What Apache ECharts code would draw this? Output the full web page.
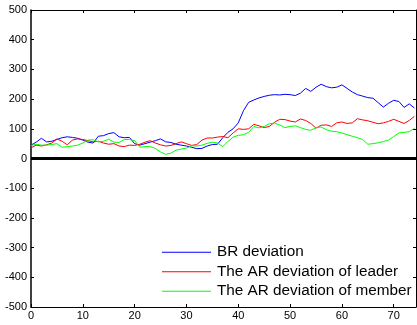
<!DOCTYPE html>
<html><head><meta charset="utf-8">
<script src="https://cdn.jsdelivr.net/npm/echarts@6/dist/echarts.min.js"></script>
<style>html,body{margin:0;padding:0;background:#fff}#c{width:417px;height:325px}</style>
</head><body><div id="c"></div>
<script>
const xTicks = [0,10,20,30,40,50,60,70];
const yTicks = [-500,-400,-300,-200,-100,0,100,200,300,400,500];
const seriesNames = ["BR deviation","The AR deviation of leader","The AR deviation of member"];
const brDeviation = [45,55,68,56,58,64,70,73,71,68,62,55,52,75,77,84,87,73,70,71,50,45,50,55,60,66,56,54,48,45,42,38,33,34,42,47,48,70,88,100,120,161,189,197,204,209,213,215,214,216,215,212,220,236,226,240,250,242,238,240,248,236,224,215,210,205,203,188,173,186,196,192,172,184,170];
const leaderDeviation = [36,45,42,46,52,66,58,46,62,66,64,60,56,58,52,48,50,42,40,45,44,48,55,60,52,46,42,44,50,56,50,44,47,62,69,69,72,74,70,86,100,98,100,115,110,104,108,122,132,131,126,123,133,128,118,102,112,113,108,120,123,118,120,134,130,127,122,117,120,125,132,125,118,128,142];
const memberDeviation = [44,48,45,45,47,50,38,40,42,45,52,62,63,56,58,65,55,54,64,64,60,38,40,40,34,22,14,18,28,32,35,43,42,45,51,55,52,40,57,72,78,80,88,108,103,108,117,119,113,104,108,110,104,98,95,104,106,97,92,90,86,80,75,70,64,48,50,53,57,62,74,86,88,90,102];
const colors = ["#0000ff","#ff0000","#00ff00"];
const chart = echarts.init(document.getElementById('c'), null, {renderer:'canvas'});
const tf = {fontFamily:'Liberation Sans, Arial, sans-serif', fontSize:11, color:'#000'};
const mk = (arr)=>arr.map((v,i)=>[i,v]);
const datasets=[brDeviation,leaderDeviation,memberDeviation];
const lineIcon = 'path://M0,0 L100,0 L100,2 L0,2 Z';
chart.setOption({
  animation:false,
  backgroundColor:'#fff',
  grid:{left:31,top:10,width:385,bottom:18,containLabel:false},
  legend:{orient:'vertical',left:157,top:238,itemWidth:49,itemHeight:1,itemGap:1,itemGap:1,
    textStyle:{fontFamily:'Liberation Sans, Arial, sans-serif',fontSize:15.3,color:'#000',lineHeight:18.5,padding:[0,0,0,1]},
    data:seriesNames.map((n,k)=>({name:n,icon:lineIcon,itemStyle:{color:colors[k]}}))},
  xAxis:[
    {type:'value',min:0,max:74.3,interval:10,position:'bottom',
     axisLine:{onZero:false,lineStyle:{color:'#000',width:1}},axisTick:{inside:true,length:3,lineStyle:{color:'#000'}},
     axisLabel:Object.assign({margin:3,showMaxLabel:false,formatter:v=>xTicks.includes(v)?String(v):''},tf),splitLine:{show:false}},
    {type:'value',min:0,max:74.3,interval:10,position:'top',
     axisLine:{onZero:false,lineStyle:{color:'#000',width:1}},axisTick:{inside:true,length:3,lineStyle:{color:'#000'}},
     axisLabel:{show:false},splitLine:{show:false}}
  ],
  yAxis:[
    {type:'value',min:-500,max:500,interval:100,position:'left',
     axisLine:{show:true,onZero:false,lineStyle:{color:'#000',width:1.5}},axisTick:{show:true,inside:true,length:3,lineStyle:{color:'#000'}},
     axisLabel:Object.assign({margin:4,formatter:v=>yTicks.includes(v)?String(v):''},tf),splitLine:{show:false}},
    {type:'value',min:-500,max:500,interval:100,position:'right',
     axisLine:{show:true,onZero:false,lineStyle:{color:'#000',width:1}},axisTick:{show:true,inside:true,length:3,lineStyle:{color:'#000'}},
     axisLabel:{show:false},splitLine:{show:false}}
  ],
  series:seriesNames.map((n,k)=>({
    name:n,type:'line',data:mk(datasets[k]),symbol:'none',xAxisIndex:0,yAxisIndex:0,
    lineStyle:{color:colors[k],width:1},itemStyle:{color:colors[k]},
    z:3,
    markLine:k===0?{silent:true,symbol:'none',label:{show:false},
      lineStyle:{color:'#000',width:3,type:'solid'},data:[{yAxis:0}],z:5}:undefined
  }))
});
</script></body></html>
